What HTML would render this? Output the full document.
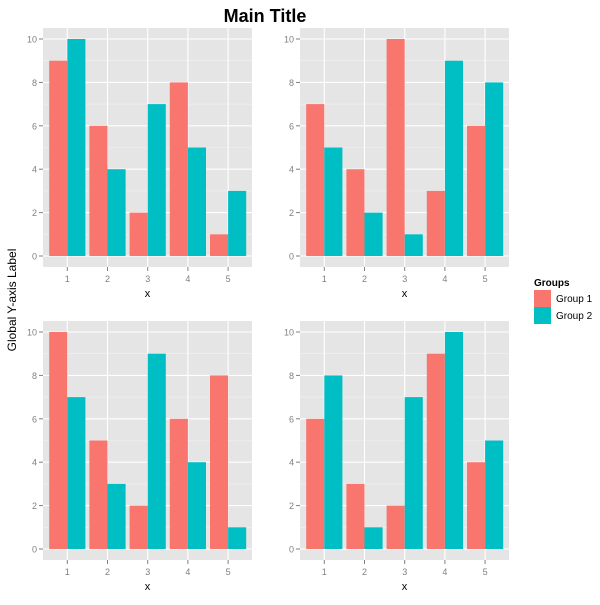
<!DOCTYPE html>
<html><head><meta charset="utf-8"><style>
body{margin:0;background:#fff;width:600px;height:600px;overflow:hidden}
svg text{font-family:"Liberation Sans",sans-serif}
</style></head><body>
<svg id="chart" width="600" height="600" xmlns="http://www.w3.org/2000/svg">
<text x="265" y="22" text-anchor="middle" font-size="18" font-weight="bold">Main Title</text>
<text transform="translate(16,300) rotate(-90)" text-anchor="middle" font-size="12">Global Y-axis Label</text>
<g>
<text x="534" y="286" font-size="10" font-weight="bold">Groups</text>
<rect x="534" y="290" width="17" height="17" fill="#F8766D"/>
<text x="556" y="302" font-size="10">Group 1</text>
<rect x="534" y="307" width="17" height="17" fill="#00BFC4"/>
<text x="556" y="319" font-size="10">Group 2</text>
</g>
</svg>
<script>
const categories=[1,2,3,4,5];
const yTicks=[0,2,4,6,8,10];
const p1g1=[9,6,2,8,1], p1g2=[10,4,7,5,3];
const p2g1=[7,4,10,3,6], p2g2=[5,2,1,9,8];
const p3g1=[10,5,2,6,8], p3g2=[7,3,9,4,1];
const p4g1=[6,3,2,9,4], p4g2=[8,1,7,10,5];
const panels=[[p1g1,p1g2],[p2g1,p2g2],[p3g1,p3g2],[p4g1,p4g2]];
const NS="http://www.w3.org/2000/svg";
const svg=document.getElementById('chart');
function mk(t,a,p){const e=document.createElementNS(NS,t);for(const k in a)e.setAttribute(k,a[k]);p.appendChild(e);return e;}
const boxes=[[43,28],[300,28],[43,321],[300,321]];
panels.forEach((pd,pi)=>{
  const [L,T]=boxes[pi];const W=209,H=239;
  const g=mk('g',{},svg);
  
  
  const xs=v=>L+24.3+(v-1)*40.2;
  const ys=v=>T+228-v*21.7;
  const bg=mk('rect',{x:L,y:T,width:W,height:H,fill:'#E5E5E5'},g);
  
  
  for(let i=0;i<yTicks.length-1;i++){const v=(yTicks[i]+yTicks[i+1])/2;
    const l=mk('line',{x1:L,x2:L+W,y1:ys(v),y2:ys(v),stroke:'#F2F2F2','stroke-width':0.6},g);
    
    }
  yTicks.forEach(v=>{
    const l=mk('line',{x1:L,x2:L+W,y1:ys(v),y2:ys(v),stroke:'#fff','stroke-width':1.1},g);
    
    
    const tk=mk('line',{x1:L-4,x2:L,y1:ys(v),y2:ys(v),stroke:'#7F7F7F'},g);
    
    
    const t=mk('text',{x:L-6,y:ys(v)+3.5,'text-anchor':'end','font-size':9,fill:'#7F7F7F'},g);
    t.textContent=v;
    
    
  });
  categories.forEach(c=>{
    const l=mk('line',{x1:xs(c),x2:xs(c),y1:T,y2:T+H,stroke:'#fff','stroke-width':1.1},g);
    
    
    const tk=mk('line',{x1:xs(c),x2:xs(c),y1:T+H,y2:T+H+4,stroke:'#7F7F7F'},g);
    
    
    const t=mk('text',{x:xs(c),y:T+H+15,'text-anchor':'middle','font-size':9,fill:'#7F7F7F'},g);
    t.textContent=c;
    
    
  });
  const bw=18.1;
  categories.forEach((c,i)=>{
    const a=mk('rect',{x:xs(c)-bw,y:ys(pd[0][i]),width:bw,height:ys(0)-ys(pd[0][i]),fill:'#F8766D'},g);
    
    
    const b=mk('rect',{x:xs(c),y:ys(pd[1][i]),width:bw,height:ys(0)-ys(pd[1][i]),fill:'#00BFC4'},g);
    
    
  });
  const xt=mk('text',{x:L+W/2,y:T+H+30,'text-anchor':'middle','font-size':11},g);
  xt.textContent='x';
  
  
});
</script>
</body></html>
